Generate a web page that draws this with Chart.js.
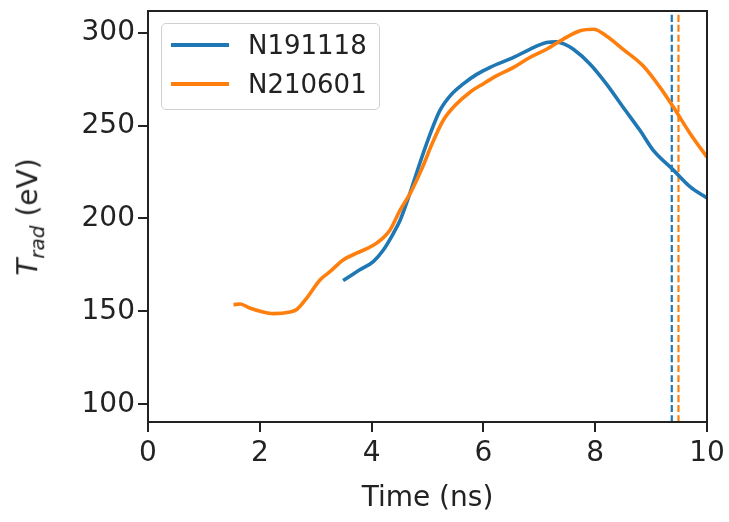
<!DOCTYPE html>
<html>
<head>
<meta charset="utf-8">
<script src="https://cdn.jsdelivr.net/npm/chart.js@4.4.0/dist/chart.umd.min.js"></script>
<style>
  body { margin: 0; background: #fff; font-family: 'DejaVu Sans', sans-serif; }
  #wrap { position: relative; width: 729px; height: 522px; }
  #yTitle {
    position: absolute; left: 30px; top: 217px;
    transform: translate(-50%, -50%) rotate(-90deg);
    font-size: 28px; color: #222; white-space: nowrap;
  }
  #yTitle sub { font-size: 20px; }
  #legend {
    position: absolute; left: 161px; top: 23px; width: 217px; height: 85px;
    border: 1.5px solid #d0d0d0; border-radius: 5px; background: rgba(255,255,255,0.85);
  }
  .item { position: absolute; left: 0; height: 30px; display: flex; align-items: center; }
  .swatch { position: absolute; left: 9px; width: 58px; height: 4px; }
  .lbl { position: absolute; left: 86px; font-size: 26px; color: #222; white-space: nowrap; }
</style>
</head>
<body>
<div id="wrap">
  <canvas id="chart"></canvas>
  <div id="yTitle"><i>T</i><sub><i>rad</i></sub> (eV)</div>
  <div id="legend"></div>
</div>
<script>
// data
const seriesNames = ['N191118', 'N210601'];
const seriesColors = ['#1f77b4', '#ff7f0e'];

const blueX = [3.49, 3.79, 4.03, 4.21, 4.39, 4.51, 4.68, 4.84, 5.03, 5.22, 5.42, 5.64, 5.88, 6.12, 6.54, 6.83, 7.13, 7.30, 7.45, 7.61, 7.91, 8.20, 8.50, 8.80, 9.04, 9.40, 9.70, 10.0];
const blueY = [166.6, 172.4, 176.8, 183, 192, 199, 213, 227.7, 244, 258, 266.5, 272.4, 277.5, 281.3, 286.6, 291, 294.6, 295, 293.8, 291, 283, 272.4, 259.8, 247.4, 236.6, 226, 217, 211];

const orangeX = [1.53, 1.65, 1.82, 2.04, 2.24, 2.54, 2.66, 2.84, 3.08, 3.26, 3.49, 3.73, 4.09, 4.33, 4.51, 4.70, 4.90, 5.08, 5.28, 5.50, 5.76, 6.00, 6.24, 6.54, 6.83, 7.13, 7.43, 7.73, 7.97, 8.20, 8.50, 8.86, 9.16, 9.40, 9.70, 10.0];
const orangeY = [153.6, 154, 151.8, 149.8, 148.8, 149.7, 151, 157.2, 167, 171.5, 177.7, 181.3, 186.7, 193.8, 204.5, 214, 226.8, 240, 252.7, 261, 267.9, 272.5, 276.8, 281.3, 286.6, 291, 296.5, 301, 301.8, 298.2, 291, 282, 270.5, 259.8, 245.6, 233];

// vertical dashed markers (ns)
const markerX = [9.37, 9.49];

const xTicks = [0, 2, 4, 6, 8, 10];
const yTicks = [100, 150, 200, 250, 300];
const xRange = [0, 10];
const yRange = [90.5, 311.6];

const toPoints = (xs, ys) => xs.map((x, i) => ({ x: x, y: ys[i] }));

const textColor = '#222';

// frame around the plot area
const framePlugin = {
  id: 'frame',
  afterDatasetsDraw(chart) {
    const a = chart.chartArea;
    const ctx = chart.ctx;
    ctx.save();
    ctx.strokeStyle = textColor;
    ctx.lineWidth = 2;
    ctx.strokeRect(a.left, a.top, a.right - a.left, a.bottom - a.top);
    ctx.restore();
  }
};

const ctx = document.getElementById('chart').getContext('2d');
new Chart(ctx, {
  type: 'line',
  data: {
    datasets: [
      { label: seriesNames[0], data: toPoints(blueX, blueY), borderColor: seriesColors[0], borderWidth: 3.6, order: 1 },
      { label: seriesNames[1], data: toPoints(orangeX, orangeY), borderColor: seriesColors[1], borderWidth: 3.6, order: 0 },
      { label: 'm0', data: [{ x: markerX[0], y: yRange[0] }, { x: markerX[0], y: yRange[1] }], borderColor: seriesColors[0], borderWidth: 2.2, borderDash: [7, 3], order: 3, tension: 0 },
      { label: 'm1', data: [{ x: markerX[1], y: yRange[0] }, { x: markerX[1], y: yRange[1] }], borderColor: seriesColors[1], borderWidth: 2.2, borderDash: [7, 3], order: 2, tension: 0 }
    ]
  },
  options: {
    responsive: true,
    maintainAspectRatio: false,
    animation: false,
    layout: { padding: { left: 0, right: 22, top: 11, bottom: 0 } },
    elements: {
      point: { radius: 0 },
      line: { tension: 0.3, cubicInterpolationMode: 'monotone', fill: false }
    },
    plugins: { legend: { display: false }, tooltip: { enabled: false } },
    scales: {
      x: {
        type: 'linear', min: xRange[0], max: xRange[1],
        afterBuildTicks: (s) => { s.ticks = xTicks.map(v => ({ value: v })); },
        afterFit: (s) => { s.height = 100; s.paddingLeft = 0; s.paddingRight = 0; },
        border: { display: false },
        grid: { drawOnChartArea: false, drawTicks: true, tickLength: 10, color: textColor, lineWidth: 2 },
        ticks: { color: textColor, font: { family: 'DejaVu Sans', size: 28 }, padding: 5, maxRotation: 0 },
        title: { display: true, text: 'Time (ns)', color: textColor, font: { family: 'DejaVu Sans', size: 28 }, padding: { top: 0, bottom: 6 } }
      },
      y: {
        type: 'linear', min: yRange[0], max: yRange[1],
        afterBuildTicks: (s) => { s.ticks = yTicks.map(v => ({ value: v })); },
        afterFit: (s) => { s.width = 148; s.paddingTop = 0; s.paddingBottom = 0; },
        border: { display: false },
        grid: { drawOnChartArea: false, drawTicks: true, tickLength: 10, color: textColor, lineWidth: 2 },
        ticks: { color: textColor, font: { family: 'DejaVu Sans', size: 28 }, padding: 3 }
      }
    }
  },
  plugins: [framePlugin]
});

// legend box
const legend = document.getElementById('legend');
seriesNames.forEach((name, i) => {
  const item = document.createElement('div');
  item.className = 'item';
  item.style.top = (6 + i * 39) + 'px';
  item.innerHTML = `<span class="swatch" style="background:${seriesColors[i]}"></span><span class="lbl">${name}</span>`;
  legend.appendChild(item);
});
</script>
</body>
</html>
